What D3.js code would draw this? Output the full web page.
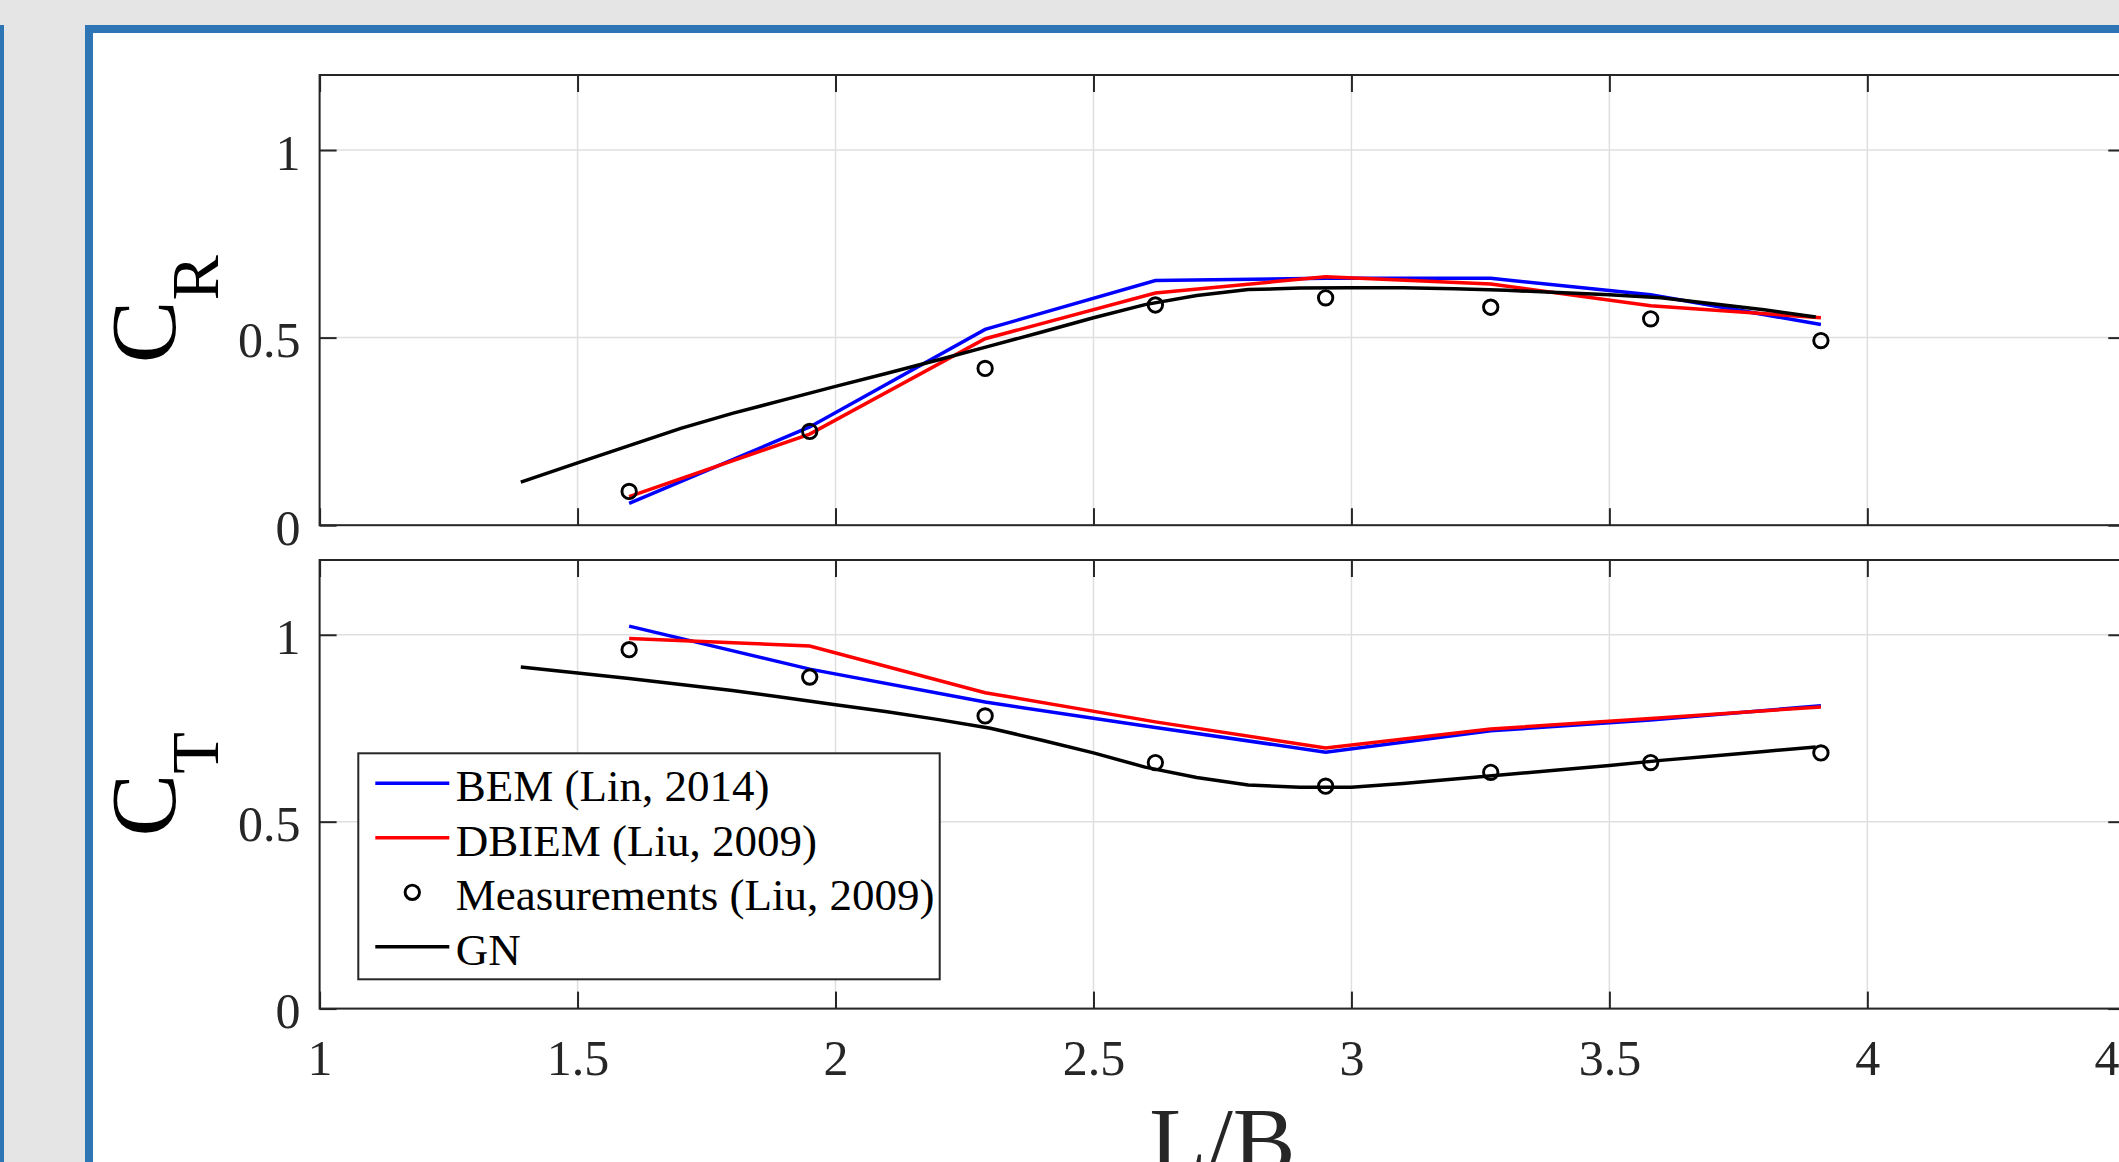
<!DOCTYPE html>
<html>
<head>
<meta charset="utf-8">
<script src="https://cdn.jsdelivr.net/npm/d3@7"></script>
<style>
    html, body { margin: 0; padding: 0; background: #e5e5e5; overflow: hidden; }
    svg { display: block; font-family: "Liberation Serif", "Times New Roman", serif; }
</style>
</head>
<body>
<svg id="chart" width="2119" height="1162"></svg>
<script>
// L/B values of the measurements, BEM and DBIEM are given at the same points
const lbPoints = [1.6, 1.95, 2.29, 2.62, 2.95, 3.27, 3.58, 3.91];

const crMeasured = [0.09, 0.25, 0.418, 0.587, 0.606, 0.581, 0.55, 0.492];
const crBEM      = [0.058, 0.262, 0.522, 0.652, 0.658, 0.658, 0.614, 0.535];
const crDBIEM    = [0.076, 0.243, 0.497, 0.619, 0.662, 0.643, 0.585, 0.553];

const ctMeasured = [0.96, 0.887, 0.783, 0.658, 0.595, 0.632, 0.658, 0.684];
const ctBEM      = [1.023, 0.908, 0.82, 0.752, 0.686, 0.743, 0.772, 0.81];
const ctDBIEM    = [0.99, 0.97, 0.845, 0.767, 0.697, 0.748, 0.776, 0.807];

// GN curve at these L/B values
const gnLB  = [1.39, 1.5, 1.6, 1.7, 1.8, 1.9, 2.0, 2.1, 2.2, 2.3, 2.4, 2.5, 2.6,
               2.7, 2.8, 2.9, 3.0, 3.1, 3.2, 3.3, 3.4, 3.5, 3.6, 3.7, 3.8, 3.9];
const crGN  = [0.115, 0.166, 0.212, 0.258, 0.298, 0.334, 0.370, 0.405, 0.441, 0.478, 0.515, 0.553, 0.588,
               0.612, 0.628, 0.632, 0.633, 0.633, 0.630, 0.626, 0.620, 0.614, 0.606, 0.590, 0.574, 0.555];
const ctGN  = [0.914, 0.898, 0.883, 0.867, 0.851, 0.832, 0.813, 0.794, 0.773, 0.750, 0.718, 0.684, 0.646,
               0.618, 0.598, 0.592, 0.592, 0.602, 0.614, 0.626, 0.638, 0.650, 0.664, 0.676, 0.688, 0.700];

const xTicks = [1, 1.5, 2, 2.5, 3, 3.5, 4, 4.5];
const yTicks = [0, 0.5, 1];
const legendLabels = ["BEM (Lin, 2014)", "DBIEM (Liu, 2009)", "Measurements (Liu, 2009)", "GN"];

const svg = d3.select("#chart");

// window frame around the figure
svg.append("rect")
    .attr("x", 0).attr("y", 25).attr("width", 4).attr("height", 1140)
    .attr("fill", "#2e75b6");
svg.append("rect")
    .attr("x", 89).attr("y", 29).attr("width", 2100).attr("height", 1200)
    .attr("fill", "#ffffff")
    .attr("stroke", "#2e75b6")
    .attr("stroke-width", 8);

// shared x scale (axis runs to 4.5, just past the right edge)
const x = d3.scaleLinear().domain([1, 4.5]).range([319.6, 2125.3]);
const tickLen = 17;
const axisColor = "#262626";

const panels = [
    { top: 75, bottom: 525.2, label: "R", meas: crMeasured, bem: crBEM, dbiem: crDBIEM, gn: crGN, shift: 9, xLabels: false },
    { top: 560, bottom: 1008.6, label: "T", meas: ctMeasured, bem: ctBEM, dbiem: ctDBIEM, gn: ctGN, shift: 0, xLabels: true }
];

panels.forEach(function (p) {
    const y = d3.scaleLinear().domain([0, 1.2]).range([p.bottom, p.top]);
    const g = svg.append("g");

    // grid
    g.selectAll(".gx").data(xTicks).enter().append("line")
        .attr("x1", d => x(d)).attr("x2", d => x(d))
        .attr("y1", p.top).attr("y2", p.bottom)
        .attr("stroke", "#dfdfdf").attr("stroke-width", 1.5);
    g.selectAll(".gy").data(yTicks).enter().append("line")
        .attr("x1", x.range()[0]).attr("x2", x.range()[1])
        .attr("y1", d => y(d)).attr("y2", d => y(d))
        .attr("stroke", "#dfdfdf").attr("stroke-width", 1.5);

    // axes with inward ticks on all four sides
    const bottomAxis = d3.axisBottom(x).tickValues(xTicks).tickSize(-tickLen).tickPadding(31)
        .tickFormat(p.xLabels ? d3.format("") : "");
    const leftAxis = d3.axisLeft(y).tickValues(yTicks).tickSize(-tickLen).tickPadding(19).tickFormat(d3.format(""));
    const topAxis = d3.axisTop(x).tickValues(xTicks).tickSize(-tickLen).tickFormat("");
    const rightAxis = d3.axisRight(y).tickValues(yTicks).tickSize(-tickLen).tickFormat("");

    const axes = [
        g.append("g").attr("transform", `translate(0,${p.bottom})`).call(bottomAxis),
        g.append("g").attr("transform", `translate(${x.range()[0]},0)`).call(leftAxis),
        g.append("g").attr("transform", `translate(0,${p.top})`).call(topAxis),
        g.append("g").attr("transform", `translate(${x.range()[1]},0)`).call(rightAxis)
    ];
    axes.forEach(a => {
        a.select(".domain").remove();
        a.selectAll("line").attr("stroke", axisColor).attr("stroke-width", 2);
        a.selectAll("text")
            .attr("fill", axisColor)
            .attr("font-size", "50px")
            .attr("font-family", "'Liberation Serif', 'Times New Roman', serif");
    });
    axes[1].selectAll("text").attr("dy", "0.38em");

    // box
    g.append("rect")
        .attr("x", x.range()[0]).attr("y", p.top)
        .attr("width", x.range()[1] - x.range()[0]).attr("height", p.bottom - p.top)
        .attr("fill", "none").attr("stroke", axisColor).attr("stroke-width", 2);

    // series
    const line = d3.line().x(d => x(d[0])).y(d => y(d[1]));
    g.append("path").datum(d3.zip(lbPoints, p.bem)).attr("d", line)
        .attr("fill", "none").attr("stroke", "#0000ff").attr("stroke-width", 3.5);
    g.append("path").datum(d3.zip(lbPoints, p.dbiem)).attr("d", line)
        .attr("fill", "none").attr("stroke", "#ff0000").attr("stroke-width", 3.5);
    g.selectAll(".meas").data(d3.zip(lbPoints, p.meas)).enter().append("circle")
        .attr("cx", d => x(d[0])).attr("cy", d => y(d[1])).attr("r", 7.2)
        .attr("fill", "none").attr("stroke", "#000000").attr("stroke-width", 2.9);
    g.append("path").datum(d3.zip(gnLB, p.gn)).attr("d", line)
        .attr("fill", "none").attr("stroke", "#000000").attr("stroke-width", 3.5);

    // y label C with subscript
    const cy = (p.top + p.bottom) / 2 + p.shift;
    const lab = svg.append("text")
        .attr("transform", `translate(175,${cy}) rotate(-90)`)
        .attr("text-anchor", "middle")
        .attr("fill", "#000000");
    lab.append("tspan").attr("font-size", "94px").text("C");
    lab.append("tspan").attr("font-size", "68px").attr("dy", 43).text(p.label);

    // legend inside the lower panel
    if (p.xLabels) {
        const lx = 358.3, ly = 753.3, lw = 581.4, lh = 226;
        const lg = svg.append("g");
        lg.append("rect").attr("x", lx).attr("y", ly).attr("width", lw).attr("height", lh)
            .attr("fill", "#ffffff").attr("stroke", axisColor).attr("stroke-width", 2);
        const colors = ["#0000ff", "#ff0000", null, "#000000"];
        legendLabels.forEach((name, i) => {
            const ry = ly + 30 + i * 54.5;
            if (colors[i]) {
                lg.append("line").attr("x1", lx + 17).attr("x2", lx + 91)
                    .attr("y1", ry).attr("y2", ry)
                    .attr("stroke", colors[i]).attr("stroke-width", 3.5);
            } else {
                lg.append("circle").attr("cx", lx + 54).attr("cy", ry).attr("r", 7.2)
                    .attr("fill", "none").attr("stroke", "#000000").attr("stroke-width", 2.9);
            }
            lg.append("text").attr("x", lx + 97.5).attr("y", ry).attr("dy", "0.4em")
                .attr("font-size", "45px").attr("fill", "#000000").text(name);
        });
    }
});

// x label
svg.append("text")
    .attr("x", (x.range()[0] + x.range()[1]) / 2)
    .attr("y", 1172)
    .attr("text-anchor", "middle")
    .attr("font-size", "94px")
    .attr("fill", axisColor)
    .text("L/B");
</script>
</body>
</html>
